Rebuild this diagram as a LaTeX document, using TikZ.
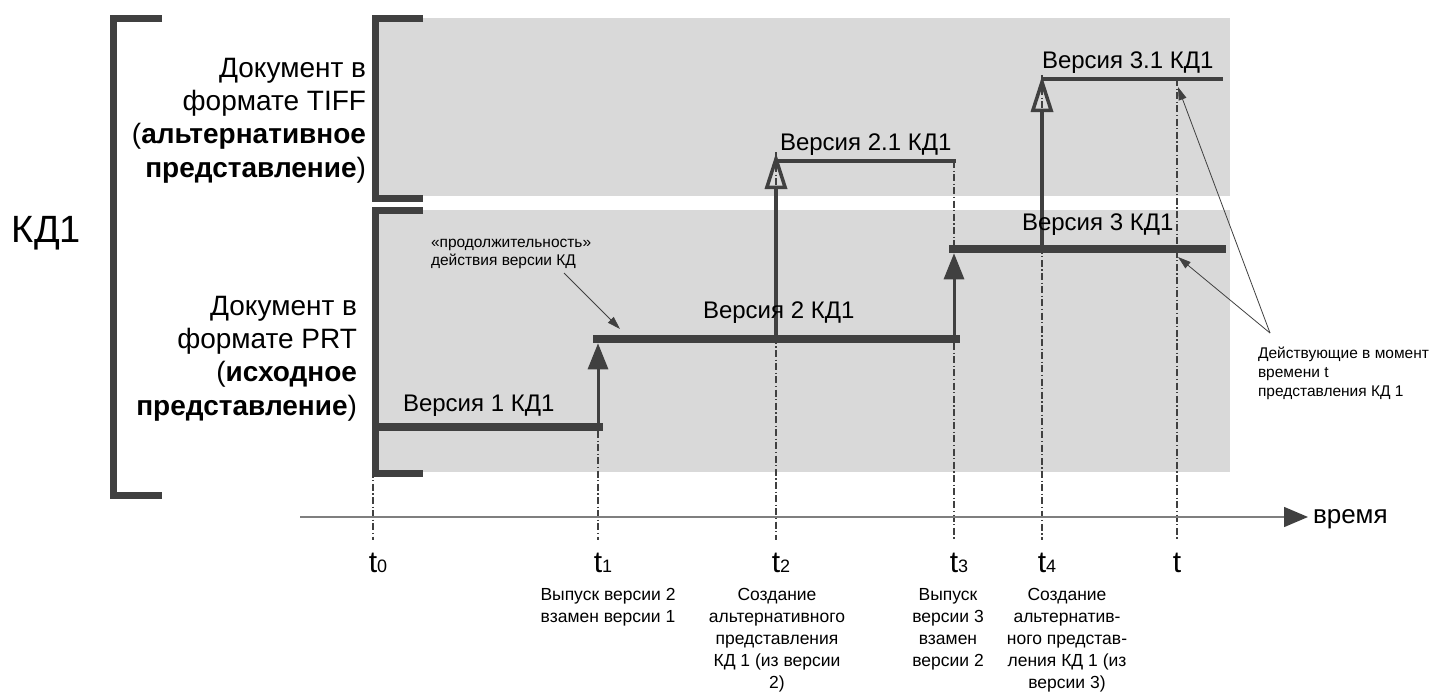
\documentclass[tikz,border=0pt]{standalone}
\usepackage{fontspec}
\setmainfont{Liberation Sans}
\usetikzlibrary{arrows.meta}
\definecolor{dk}{HTML}{404040}
\definecolor{bandc}{HTML}{D9D9D9}
\definecolor{axisc}{HTML}{7F7F7F}
\newcommand\myfs[2]{\fontsize{#1}{#2}\selectfont}
\begin{document}
\begin{tikzpicture}[x=1pt,y=-1pt,
  bandbox/.style={fill=bandc, draw=none},
  bracket/.style={draw=dk, line width=7pt},
  thickbar/.style={draw=dk, line width=8.5pt},
  thinbar/.style={draw=dk, line width=4pt},
  dashdot/.style={draw=dk, line width=1.2pt, dash pattern=on 7pt off 2.5pt on 1.2pt off 2.5pt},
  fillarrow/.style={draw=dk, line width=3pt, -{Triangle[length=26pt,width=20pt]}},
  openarrow/.style={draw=dk, line width=3.5pt, -{Triangle[open,length=36pt,width=22pt]}},
  callarrow/.style={draw=dk, line width=0.8pt, -{Triangle[length=13pt,width=8pt]}},
  axisline/.style={draw=axisc, line width=1.5pt, -{Triangle[length=24pt,width=20pt,color=dk]}},
  every node/.style={inner sep=0pt, outer sep=0pt, text=black},
  verlabel/.style={anchor=base west, font=\myfs{24}{28}},
  sidelabel/.style={align=right, anchor=base east, font=\myfs{28}{33.3}},
  eventlabel/.style={align=center, anchor=base, font=\myfs{17.5}{22}},
  ticklabel/.style={anchor=base west, font=\myfs{30}{34}}
]
\useasboundingbox (0,0) rectangle (1435,693);

% bands
\fill[bandbox] (379,18) rectangle (1230,196);
\fill[bandbox] (379,210) rectangle (1230,472);

% brackets
\draw[bracket] (162,18.5) -- (113.5,18.5) -- (113.5,495) -- (162,495);
\draw[bracket] (423,18.5) -- (375.5,18.5) -- (375.5,198.5) -- (423,198.5);
\draw[bracket] (423,210) -- (375.5,210) -- (375.5,473.5) -- (423,473.5);

% labels left (base anchor = baseline of last line)
\node[anchor=base west, font=\myfs{38}{44}] (kd) at (12,242) {КД1};
\node[sidelabel] (tiff) at (366,177) {Документ в\\формате TIFF\\(\textbf{альтернативное}\\\textbf{представление})};
\node[sidelabel] (prt) at (357,415) {Документ в\\формате PRT\\(\textbf{исходное}\\\textbf{представление})};

% coordinates
\coordinate (t0a) at (373,431); \coordinate (t0b) at (373,540);
\coordinate (t1a) at (598,431); \coordinate (t1b) at (598,540);
\coordinate (t2a) at (776,152); \coordinate (t2b) at (776,540);
\coordinate (t3a) at (954,343); \coordinate (t3b) at (954,540);
\coordinate (t3c) at (954,161); \coordinate (t3d) at (954,253);
\coordinate (t4a) at (1042,75); \coordinate (t4b) at (1042,540);
\coordinate (tta) at (1177,79); \coordinate (ttb) at (1177,540);

% dash-dot verticals
\draw[dashdot] (t0a) -- (t0b);
\draw[dashdot] (t1a) -- (t1b);
\draw[dashdot] (t2a) -- (t2b);
\draw[dashdot] (t3a) -- (t3b);
\draw[dashdot] (t3c) -- (t3d);
\draw[dashdot] (t4a) -- (t4b);
\draw[dashdot] (tta) -- (ttb);

% axis
\coordinate (axs) at (300,517); \coordinate (axe) at (1308,517);
\draw[axisline] (axs) -- (axe);
\node[anchor=base west, font=\myfs{26}{30}] (vremya) at (1313,523) {время};

% bars
\coordinate (b1s) at (372,427); \coordinate (b1e) at (603,427);
\coordinate (b2s) at (593,339); \coordinate (b2e) at (960,339);
\coordinate (b3s) at (949,249); \coordinate (b3e) at (1226,249);
\coordinate (b21s) at (776,161); \coordinate (b21e) at (956,161);
\coordinate (b31s) at (1042,79); \coordinate (b31e) at (1223,79);
\draw[thickbar] (b1s) -- (b1e);
\draw[thickbar] (b2s) -- (b2e);
\draw[thickbar] (b3s) -- (b3e);
\draw[thinbar] (b21s) -- (b21e);
\draw[thinbar] (b31s) -- (b31e);

% arrows
\coordinate (a1s) at (598,422.75); \coordinate (a1e) at (598,343.25);
\coordinate (a3s) at (954,334.75); \coordinate (a3e) at (954,253.25);
\coordinate (a2s) at (776,334.75); \coordinate (a2e) at (776,153);
\coordinate (a4s) at (1042,244.75); \coordinate (a4e) at (1042,76);
\draw[fillarrow] (a1s) -- (a1e);
\draw[fillarrow] (a3s) -- (a3e);
\draw[openarrow] (a2s) -- (a2e);
\draw[openarrow] (a4s) -- (a4e);

% version labels
\node[verlabel] (v1l) at (403,411) {Версия 1 КД1};
\node[verlabel] (v2l) at (703,318) {Версия 2 КД1};
\node[verlabel] (v3l) at (1022,230) {Версия 3 КД1};
\node[verlabel] (v21l) at (780,150) {Версия 2.1 КД1};
\node[verlabel] (v31l) at (1042,69) {Версия 3.1 КД1};

% callouts
\node[anchor=base west, align=left, font=\myfs{15.5}{18}] (dur) at (431,265) {«продолжительность»\\действия версии КД};
\coordinate (durt) at (564,273); \coordinate (durh) at (620,329);
\draw[callarrow] (durt) -- (durh);
\node[anchor=base west, align=left, font=\myfs{15.5}{19}] (note) at (1258,396) {Действующие в момент\\времени t\\представления КД 1};
\coordinate (nt) at (1270,333);
\coordinate (nh1) at (1178,257); \coordinate (nh2) at (1178,87);
\draw[callarrow] (nt) -- (nh1);
\draw[callarrow] (nt) -- (nh2);

% tick labels
\node[ticklabel] (lt0) at (368.8,572) {t\myfs{18}{18}0};
\node[ticklabel] (lt1) at (593.8,572) {t\myfs{18}{18}1};
\node[ticklabel] (lt2) at (771.8,572) {t\myfs{18}{18}2};
\node[ticklabel] (lt3) at (949.8,572) {t\myfs{18}{18}3};
\node[ticklabel] (lt4) at (1037.8,572) {t\myfs{18}{18}4};
\node[anchor=base, font=\myfs{30}{34}] (ltt) at (1177,572) {t};

% event labels (base anchor = baseline of last line)
\node[eventlabel] (e1) at (608,622) {Выпуск версии 2\\взамен версии 1};
\node[eventlabel] (e2) at (777,688) {Создание\\альтернативного\\представления\\КД 1 (из версии\\2)};
\node[eventlabel] (e3) at (948,666) {Выпуск\\версии 3\\взамен\\версии 2};
\node[eventlabel] (e4) at (1067,688) {Создание\\альтернатив-\\ного представ-\\ления КД 1 (из\\версии 3)};
\end{tikzpicture}
\end{document}
